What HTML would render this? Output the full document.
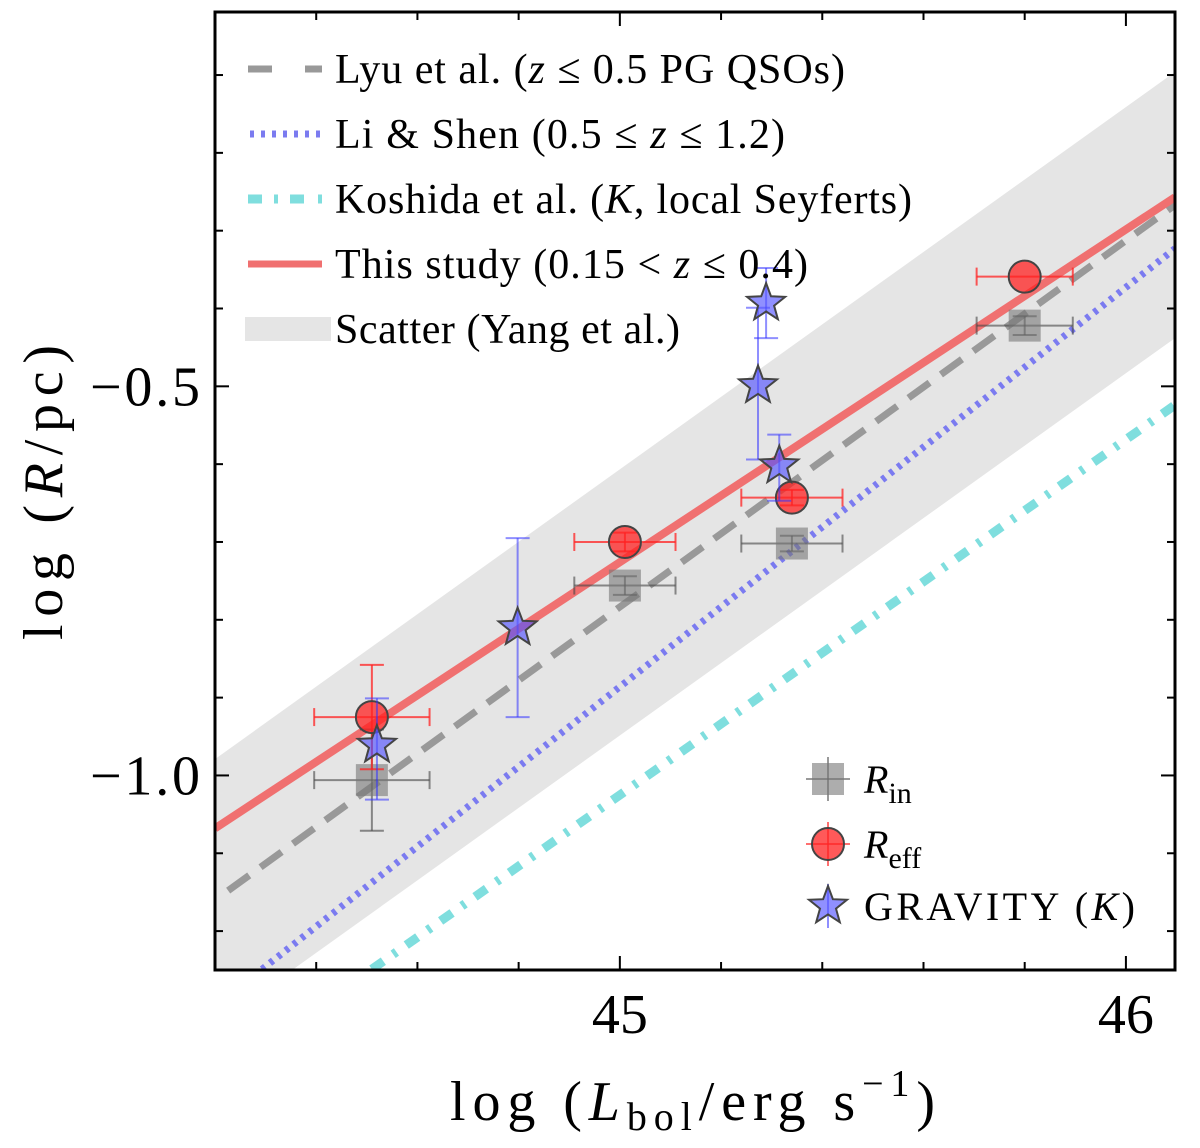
<!DOCTYPE html>
<html><head><meta charset="utf-8"><style>
html,body{margin:0;padding:0;background:#fff}
svg text{font-family:"Liberation Serif",serif;fill:#000}
</style></head><body>
<svg id="chart" width="1200" height="1143" viewBox="0 0 1200 1143" xmlns="http://www.w3.org/2000/svg">
<defs><clipPath id="clip"><rect x="215" y="12" width="960" height="958"/></clipPath></defs>
<g id="plot" clip-path="url(#clip)"></g>
<rect x="215" y="12" width="960" height="958" fill="none" stroke="#000" stroke-width="3"/>
<g id="axes"></g>
<text x="450" y="1120" font-size="56" textLength="485" lengthAdjust="spacing">log (<tspan font-style="italic">L</tspan><tspan font-size="40" dy="10">bol</tspan><tspan dy="-10">/erg s</tspan><tspan font-size="38" dy="-24">−1</tspan><tspan dy="24">)</tspan></text>
<text transform="translate(62,640) rotate(-90)" font-size="56" textLength="295" lengthAdjust="spacing">log (<tspan font-style="italic">R</tspan>/pc)</text>
<g id="legend" font-size="42">
<line x1="248" y1="69" x2="322" y2="69" stroke="#999" stroke-width="7" stroke-dasharray="24,33,18"/>
<text x="335" y="83" textLength="510" lengthAdjust="spacing">Lyu et al. (<tspan font-style="italic">z</tspan> ≤ 0.5 PG QSOs)</text>
<line x1="250" y1="134" x2="322" y2="134" stroke="#7b7bf0" stroke-width="7" stroke-dasharray="4,7"/>
<text x="335" y="148" textLength="450" lengthAdjust="spacing">Li &amp; Shen (0.5 ≤ <tspan font-style="italic">z</tspan> ≤ 1.2)</text>
<line x1="248" y1="199" x2="322" y2="199" stroke="#7fdede" stroke-width="9" stroke-dasharray="14,12,4,12,14"/>
<text x="335" y="213" textLength="577" lengthAdjust="spacing">Koshida et al. (<tspan font-style="italic">K</tspan>, local Seyferts)</text>
<line x1="248" y1="264" x2="322" y2="264" stroke="#f07070" stroke-width="7"/>
<text x="335" y="278" textLength="473" lengthAdjust="spacing">This study (0.15 &lt; <tspan font-style="italic">z</tspan> ≤ 0.4)</text>
<rect x="245" y="317" width="86" height="24" fill="#e5e5e5"/>
<text x="335" y="343" textLength="345" lengthAdjust="spacing">Scatter (Yang et al.)</text>
</g>
<g id="legend2" font-size="40">
<line x1="828" y1="757" x2="828" y2="801" stroke="#555" stroke-opacity="0.6" stroke-width="2"/>
<line x1="806" y1="779" x2="850" y2="779" stroke="#555" stroke-opacity="0.6" stroke-width="2"/>
<rect x="812" y="763" width="32" height="32" fill="#777" fill-opacity="0.6"/>
<text x="864" y="793" font-style="italic">R<tspan font-style="normal" font-size="30" dy="10">in</tspan></text>
<line x1="828" y1="822" x2="828" y2="866" stroke="#f33" stroke-opacity="0.7" stroke-width="2"/>
<line x1="806" y1="844" x2="850" y2="844" stroke="#f33" stroke-opacity="0.7" stroke-width="2"/>
<circle cx="828" cy="844" r="16" fill="#f22" fill-opacity="0.75" stroke="#444" stroke-width="2"/>
<text x="864" y="858" font-style="italic">R<tspan font-style="normal" font-size="30" dy="10">eff</tspan></text>
<line x1="828" y1="884" x2="828" y2="928" stroke="#44f" stroke-opacity="0.6" stroke-width="2"/>
<path id="legstar" d="" fill="#55f" fill-opacity="0.65" stroke="#444" stroke-width="2"/>
<text x="864" y="920" textLength="271" lengthAdjust="spacing">GRAVITY (<tspan font-style="italic">K</tspan>)</text>
</g>
</svg>
<script>
const xTicks=[45,46];
const yTicks=[-0.5,-1.0];
const yTickLabels=["−0.5","−1.0"];
// fit lines: [x0, y0, x1, y1]
const bandCenter=[44.2,-1.15,46.097,-0.267];
const bandHalf=0.171;
const lyuLine=[44.226,-1.148,46.097,-0.267];
const liLine=[44.293,-1.249,46.097,-0.323];
const koshidaLine=[44.51,-1.249,46.097,-0.524];
const thisLine=[44.2,-1.068,46.097,-0.257];
const rinX=[44.51,45.01,45.34,45.8];
const rinY=[-1.006,-0.756,-0.702,-0.422];
const rinXerr=[0.114,0.1,0.1,0.095];
const rinYerr=[0.065,0.012,0.01,0.012];
const reffX=[44.51,45.01,45.34,45.8];
const reffY=[-0.925,-0.70,-0.643,-0.359];
const reffXerr=[0.114,0.1,0.1,0.095];
const reffYerr=[0.067,0.012,0.01,0.0];
const gravX=[44.52,44.798,45.273,45.289,45.315];
const gravY=[-0.961,-0.81,-0.499,-0.393,-0.602];
const gravYlo=[0.07,0.115,0.095,0.045,0.045];
const gravYhi=[0.06,0.115,0.1,0.045,0.04];

const X0=44.2,X1=46.097,PX0=215,PX1=1175;
const Y0=-1.25,Y1=-0.019,PY0=970,PY1=12;
const sx=v=>PX0+(v-X0)/(X1-X0)*(PX1-PX0);
const sy=v=>PY0+(v-Y0)/(Y1-Y0)*(PY1-PY0);
const NS="http://www.w3.org/2000/svg";
const plot=document.getElementById('plot'),axes=document.getElementById('axes');
function mk(tag,attrs,parent){const e=document.createElementNS(NS,tag);for(const k in attrs)e.setAttribute(k,attrs[k]);parent.appendChild(e);return e;}
function lineAt(l,x){return l[1]+(l[3]-l[1])/(l[2]-l[0])*(x-l[0]);}
{const xa=X0-0.1,xb=X1+0.1;
const p=`${sx(xa)},${sy(lineAt(bandCenter,xa)+bandHalf)} ${sx(xb)},${sy(lineAt(bandCenter,xb)+bandHalf)} ${sx(xb)},${sy(lineAt(bandCenter,xb)-bandHalf)} ${sx(xa)},${sy(lineAt(bandCenter,xa)-bandHalf)}`;
const b=mk('polygon',{points:p,fill:'#e5e5e5'},plot);

}
function drawLine(l,st,name){const e=mk('line',Object.assign({x1:sx(l[0]),y1:sy(l[1]),x2:sx(l[2]),y2:sy(l[3])},st),plot);

}
drawLine(lyuLine,{stroke:'#999',"stroke-width":7,"stroke-dasharray":"26,14"},'lyu-line');
drawLine(liLine,{stroke:'#7b7bf0',"stroke-width":7,"stroke-dasharray":"4,6"},'li-shen-line');
drawLine(koshidaLine,{stroke:'#7fdede',"stroke-width":9,"stroke-dasharray":"14,12,4,12"},'koshida-line');
drawLine(thisLine,{stroke:'#f07070',"stroke-width":8},'this-study-line');
for(let i=0;i<=10;i++){const v=44.2+i*0.2;const x=sx(v);const major=xTicks.some(t=>Math.abs(t-v)<1e-6);const L=major?14:8;
mk('line',{x1:x,y1:970,x2:x,y2:970-L,stroke:'#000','stroke-width':2},axes);mk('line',{x1:x,y1:12,x2:x,y2:12+L,stroke:'#000','stroke-width':2},axes);}
for(let i=0;i<=12;i++){const v=-1.2+i*0.1;const y=sy(v);if(y<12)continue;const major=yTicks.some(t=>Math.abs(t-v)<1e-6);const L=major?14:8;
mk('line',{x1:215,y1:y,x2:215+L,y2:y,stroke:'#000','stroke-width':2},axes);mk('line',{x1:1175,y1:y,x2:1175-L,y2:y,stroke:'#000','stroke-width':2},axes);}
xTicks.forEach(t=>{const e=mk('text',{x:sx(t),y:1033,'font-size':56,'text-anchor':'middle'},axes);e.textContent=String(t);

});
yTicks.forEach((t,i)=>{const e=mk('text',{x:90,y:sy(t)+19,'font-size':56,textLength:110,lengthAdjust:'spacing'},axes);e.textContent=yTickLabels[i];

});
function err(x,y,xe,ylo,yhi,color,op){const g=mk('g',{stroke:color,'stroke-opacity':op,'stroke-width':2},plot);
if(xe>0){mk('line',{x1:sx(x-xe),y1:sy(y),x2:sx(x+xe),y2:sy(y)},g);mk('line',{x1:sx(x-xe),y1:sy(y)-9,x2:sx(x-xe),y2:sy(y)+9},g);mk('line',{x1:sx(x+xe),y1:sy(y)-9,x2:sx(x+xe),y2:sy(y)+9},g);}
if(ylo>0||yhi>0){mk('line',{x1:sx(x),y1:sy(y-ylo),x2:sx(x),y2:sy(y+yhi)},g);mk('line',{x1:sx(x)-12,y1:sy(y-ylo),x2:sx(x)+12,y2:sy(y-ylo)},g);mk('line',{x1:sx(x)-12,y1:sy(y+yhi),x2:sx(x)+12,y2:sy(y+yhi)},g);}
return g;}
function starPath(cx,cy,R){let d='';for(let i=0;i<10;i++){const r=i%2?R*0.42:R;const a=-Math.PI/2+i*Math.PI/5;d+=(i?'L':'M')+(cx+r*Math.cos(a)).toFixed(1)+','+(cy+r*Math.sin(a)).toFixed(1);}return d+'Z';}
rinX.forEach((x,i)=>{err(x,rinY[i],rinXerr[i],rinYerr[i],rinYerr[i],'#444',0.6);
const r=mk('rect',{x:sx(x)-16,y:sy(rinY[i])-16,width:32,height:32,fill:'#777','fill-opacity':0.6},plot);

});
reffX.forEach((x,i)=>{err(x,reffY[i],reffXerr[i],reffYerr[i],reffYerr[i],'#f22',0.75);
const c=mk('circle',{cx:sx(x),cy:sy(reffY[i]),r:16,fill:'#f22','fill-opacity':0.75,stroke:'#444','stroke-width':2},plot);

});
gravX.forEach((x,i)=>{err(x,gravY[i],0,gravYlo[i],gravYhi[i],'#33f',0.55);
const s=mk('path',{d:starPath(sx(x),sy(gravY[i]),20),fill:'#55f','fill-opacity':0.65,stroke:'#444','stroke-width':2},plot);

});
document.getElementById('legstar').setAttribute('d',starPath(828,906,20));
</script>
</body></html>
